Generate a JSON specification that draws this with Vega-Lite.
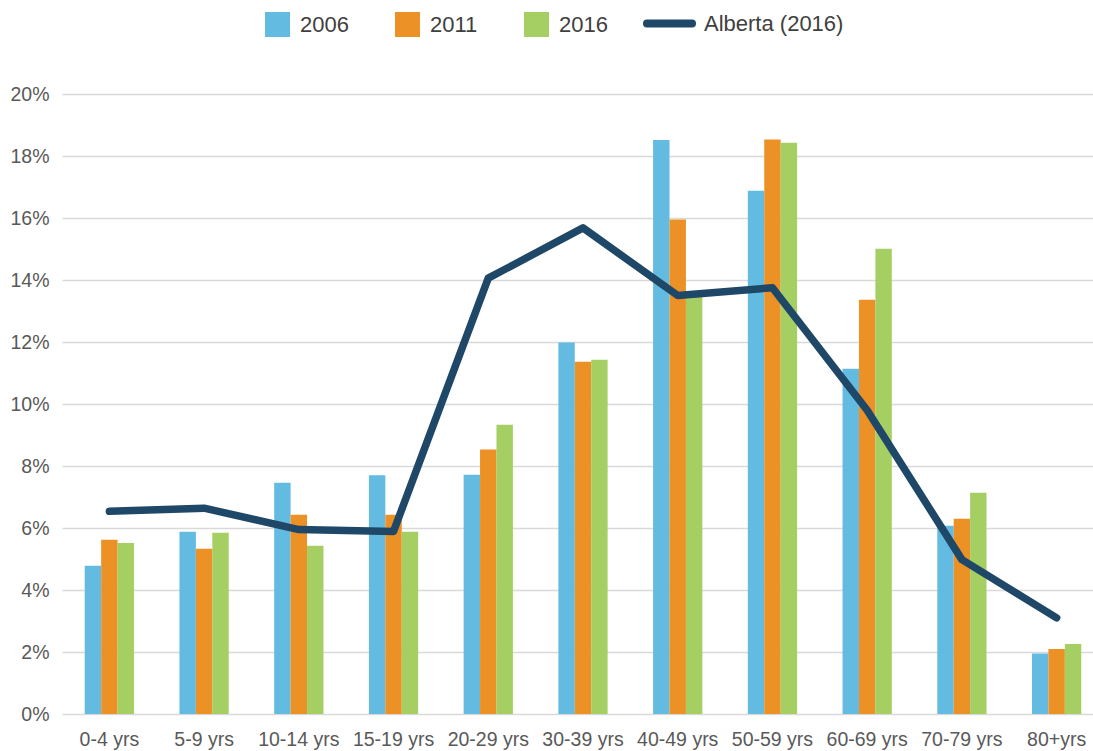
{
  "$schema": "https://vega.github.io/schema/vega-lite/v6.json",
  "width": 1030,
  "height": 620,
  "autosize": {"type": "none"},
  "padding": {"left": 61, "top": 94, "right": 2, "bottom": 37},
  "background": "white",
  "config": {
    "view": {"stroke": null},
    "font": "Liberation Sans",
    "axis": {"labelFont": "Liberation Sans", "labelColor": "#595959", "labelFontSize": 19.5}
  },
  "data": {
    "values": [
      {"age": "0-4 yrs", "series": "2006", "value": 0.0478},
      {"age": "0-4 yrs", "series": "2011", "value": 0.0562},
      {"age": "0-4 yrs", "series": "2016", "value": 0.0552},
      {"age": "5-9 yrs", "series": "2006", "value": 0.0588},
      {"age": "5-9 yrs", "series": "2011", "value": 0.0533},
      {"age": "5-9 yrs", "series": "2016", "value": 0.0585},
      {"age": "10-14 yrs", "series": "2006", "value": 0.0746},
      {"age": "10-14 yrs", "series": "2011", "value": 0.0643},
      {"age": "10-14 yrs", "series": "2016", "value": 0.0543},
      {"age": "15-19 yrs", "series": "2006", "value": 0.0770},
      {"age": "15-19 yrs", "series": "2011", "value": 0.0643},
      {"age": "15-19 yrs", "series": "2016", "value": 0.0588},
      {"age": "20-29 yrs", "series": "2006", "value": 0.0772},
      {"age": "20-29 yrs", "series": "2011", "value": 0.0853},
      {"age": "20-29 yrs", "series": "2016", "value": 0.0933},
      {"age": "30-39 yrs", "series": "2006", "value": 0.1198},
      {"age": "30-39 yrs", "series": "2011", "value": 0.1136},
      {"age": "30-39 yrs", "series": "2016", "value": 0.1143},
      {"age": "40-49 yrs", "series": "2006", "value": 0.1852},
      {"age": "40-49 yrs", "series": "2011", "value": 0.1595},
      {"age": "40-49 yrs", "series": "2016", "value": 0.1355},
      {"age": "50-59 yrs", "series": "2006", "value": 0.1688},
      {"age": "50-59 yrs", "series": "2011", "value": 0.1853},
      {"age": "50-59 yrs", "series": "2016", "value": 0.1843},
      {"age": "60-69 yrs", "series": "2006", "value": 0.1114},
      {"age": "60-69 yrs", "series": "2011", "value": 0.1336},
      {"age": "60-69 yrs", "series": "2016", "value": 0.1501},
      {"age": "70-79 yrs", "series": "2006", "value": 0.0607},
      {"age": "70-79 yrs", "series": "2011", "value": 0.0630},
      {"age": "70-79 yrs", "series": "2016", "value": 0.0714},
      {"age": "80+yrs", "series": "2006", "value": 0.0195},
      {"age": "80+yrs", "series": "2011", "value": 0.0210},
      {"age": "80+yrs", "series": "2016", "value": 0.0226},
      {"age": "0-4 yrs", "series": "Alberta (2016)", "value": 0.0654},
      {"age": "5-9 yrs", "series": "Alberta (2016)", "value": 0.0664},
      {"age": "10-14 yrs", "series": "Alberta (2016)", "value": 0.0595},
      {"age": "15-19 yrs", "series": "Alberta (2016)", "value": 0.0589},
      {"age": "20-29 yrs", "series": "Alberta (2016)", "value": 0.1406},
      {"age": "30-39 yrs", "series": "Alberta (2016)", "value": 0.1568},
      {"age": "40-49 yrs", "series": "Alberta (2016)", "value": 0.1350},
      {"age": "50-59 yrs", "series": "Alberta (2016)", "value": 0.1375},
      {"age": "60-69 yrs", "series": "Alberta (2016)", "value": 0.0980},
      {"age": "70-79 yrs", "series": "Alberta (2016)", "value": 0.0498},
      {"age": "80+yrs", "series": "Alberta (2016)", "value": 0.0310}
    ]
  },
  "layer": [
    {
      "transform": [{"filter": "datum.series !== 'Alberta (2016)'"}],
      "mark": {"type": "bar"},
      "encoding": {
        "x": {
          "field": "age", "type": "nominal",
          "sort": ["0-4 yrs", "5-9 yrs", "10-14 yrs", "15-19 yrs", "20-29 yrs", "30-39 yrs", "40-49 yrs", "50-59 yrs", "60-69 yrs", "70-79 yrs", "80+yrs"],
          "scale": {"paddingInner": 0.48, "paddingOuter": 0.24, "range": [1, 1043]},
          "axis": {"title": null, "labelAngle": 0, "ticks": false, "domain": false, "grid": false, "labelPadding": 16.5, "labelBaseline": "top"}
        },
        "xOffset": {"field": "series", "type": "nominal", "sort": ["2006", "2011", "2016"], "scale": {"paddingInner": 0, "paddingOuter": 0}},
        "y": {
          "field": "value", "type": "quantitative",
          "scale": {"domain": [0, 0.2], "nice": false},
          "axis": {"title": null, "format": ".0%", "values": [0, 0.02, 0.04, 0.06, 0.08, 0.1, 0.12, 0.14, 0.16, 0.18, 0.2], "ticks": false, "domain": false, "grid": true, "gridColor": "#D9D9D9", "gridWidth": 1.3, "labelPadding": 12}
        },
        "fill": {
          "field": "series", "type": "nominal",
          "scale": {"domain": ["2006", "2011", "2016"], "range": ["#63BBE1", "#EB9125", "#A5CF63"]},
          "legend": {"orient": "none", "direction": "horizontal", "legendX": 204, "legendY": -82, "title": null, "symbolType": "square", "symbolSize": 625, "symbolStrokeWidth": 0, "symbolOpacity": 1, "labelFontSize": 22, "labelColor": "#404040", "labelFont": "Liberation Sans", "labelOffset": 10, "columnPadding": 46, "padding": 0}
        }
      }
    },
    {
      "transform": [{"filter": "datum.series === 'Alberta (2016)'"}],
      "mark": {"type": "line", "strokeWidth": 7.5, "strokeCap": "round", "strokeJoin": "round"},
      "encoding": {
        "x": {"field": "age", "type": "nominal", "sort": ["0-4 yrs", "5-9 yrs", "10-14 yrs", "15-19 yrs", "20-29 yrs", "30-39 yrs", "40-49 yrs", "50-59 yrs", "60-69 yrs", "70-79 yrs", "80+yrs"]},
        "y": {"field": "value", "type": "quantitative"},
        "order": {"value": null},
        "stroke": {
          "field": "series", "type": "nominal",
          "scale": {"domain": ["Alberta (2016)"], "range": ["#1F4767"]},
          "legend": {"orient": "none", "legendX": 582, "legendY": -97, "title": null, "symbolType": "stroke", "symbolSize": 2025, "symbolStrokeWidth": 8, "labelFontSize": 22, "labelColor": "#404040", "labelFont": "Liberation Sans", "labelOffset": 8, "padding": 0,
            "encode": {"symbols": {"update": {"strokeCap": {"value": "round"}}}}}
        }
      }
    }
  ]
}
